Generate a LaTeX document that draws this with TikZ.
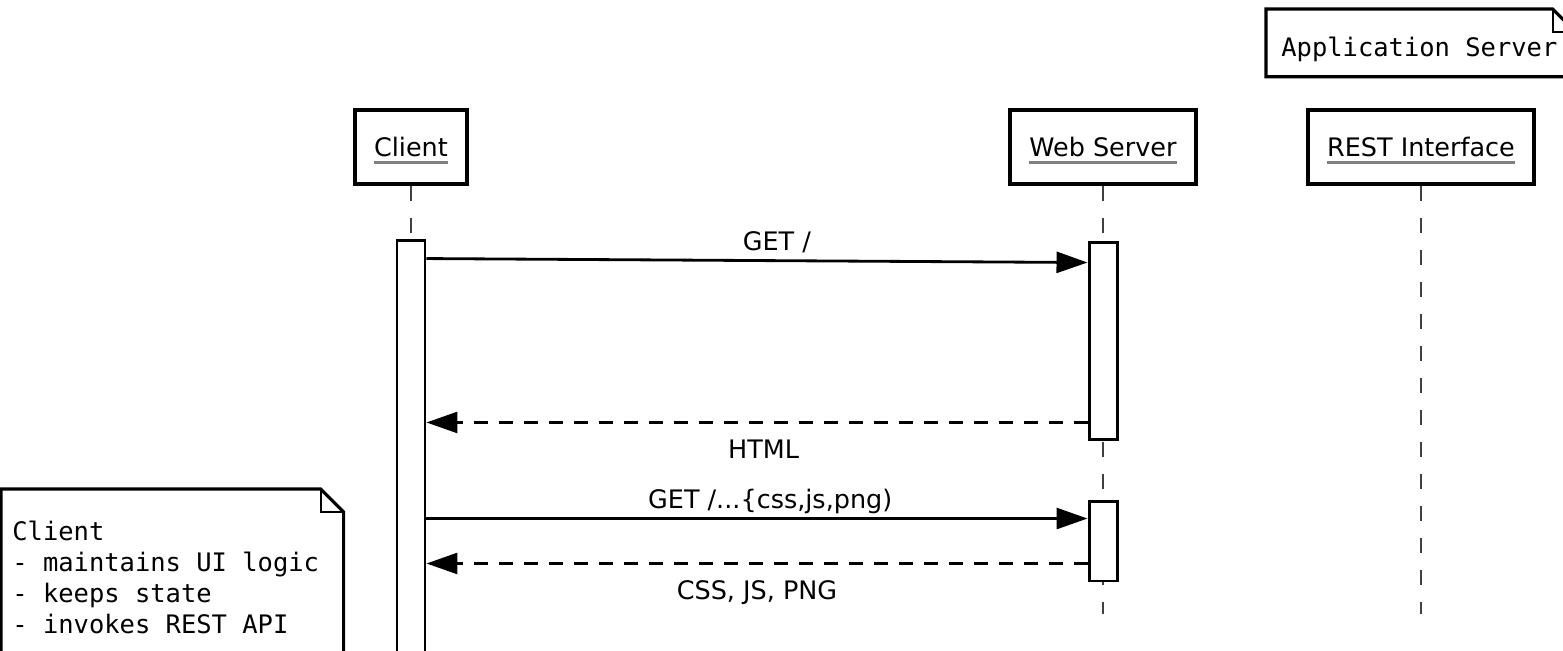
\documentclass[tikz,border=0pt]{standalone}
\usepackage{fontspec}
\setsansfont{DejaVu Sans}
\setmonofont{DejaVu Sans Mono}
\usetikzlibrary{arrows.meta, positioning, calc}

% gray underline for the participant names
\newsavebox{\ulbox}
\newcommand{\grayul}[1]{\sbox{\ulbox}{#1}\rlap{\raisebox{-4.2pt}[0pt][0pt]{\color{black!50}\rule{\wd\ulbox}{1.8pt}}}\usebox{\ulbox}}

\begin{document}
\begin{tikzpicture}[
		x=0.02cm, y=-0.02cm,
		font=\sffamily\fontsize{14.5}{17}\selectfont,
		% Style for the participant heads
		participant/.style={
			draw, line width=2.2pt, fill=white,
			minimum height=1.48cm, inner xsep=0.38cm
		},
		lifeline/.style={draw=black!75, line width=1.1pt, dash pattern=on 0.3cm off 0.34cm},
		activation/.style={draw, line width=1.7pt, fill=white, minimum width=0.56cm, inner sep=0pt},
		% Style for the messages
		call/.style={-{Triangle[length=0.62cm, width=0.42cm]}, line width=1.6pt},
		reply/.style={call, dash pattern=on 0.28cm off 0.22cm},
		msglabel/.style={inner sep=0pt, text depth=0pt},
		% Style for the notes
		note/.style={font=\ttfamily\fontsize{14.5}{17.6}\selectfont, align=left, inner xsep=0.22cm,
			execute at begin node={\spaceskip=0pt\xspaceskip=0pt}},
		noteline/.style={line width=1.8pt, line join=miter},
		foldline/.style={line width=1pt}
		]
		
		\clip (0,0) rectangle (1563,650);
		
		% --- PARTICIPANTS ---
		\node[participant] (client) at (411,147) {\grayul{Client}};
		\node[participant] (web) at (1103,147) {\grayul{Web Server}};
		\node[participant] (rest) at (1421,147) {\grayul{REST Interface}};
		
		% --- LIFELINES ---
		\coordinate (clientEnd) at (411,660);
		\coordinate (webEnd) at (1103,614);
		\coordinate (restEnd) at (1421,614);
		\draw[lifeline] (client.south) -- (clientEnd);
		\draw[lifeline] (web.south) -- (webEnd);
		\draw[lifeline] (rest.south) -- (restEnd);
		
		% --- ACTIVATIONS ---
		\node[activation, minimum height=8.4cm] (clientAct) at (411,450) {};
		\node[activation, minimum height=3.96cm] (webAct1) at (1103,341) {};
		\node[activation, minimum height=1.6cm] (webAct2) at (1103,541) {};
		
		% --- MESSAGES ---
		\draw[call] ($(clientAct.north east)+(0,20)$) -- ($(webAct1.north west)+(0,22)$)
			node[msglabel, pos=0.53, above=5pt] {GET /};
		\draw[reply] ($(webAct1.south west)+(0,-19)$) coordinate (h) -- (clientAct.east |- h)
			node[msglabel, pos=0.49, below=9pt] {HTML};
		\draw[call] ($(clientAct.east |- webAct2.north)+(0,19)$) -- ($(webAct2.north west)+(0,19)$)
			node[msglabel, pos=0.52, above=5pt] {GET /...\{css,js,png)};
		\draw[reply] ($(webAct2.south west)+(0,-19)$) coordinate (r) -- (clientAct.east |- r)
			node[msglabel, midway, below=9pt] {CSS, JS, PNG};
		
		% --- NOTES ---
		\node[note, anchor=north west, text width=5.58cm, inner xsep=0.3cm, inner ysep=0.31cm,
			text height=0.64cm, text depth=0.08cm] (appNote) at (1266,9) {Application Server};
		\draw[noteline] (appNote.north west) -- ($(appNote.north east)+(-23,0)$) coordinate (af)
			-- ($(appNote.north east)+(0,23)$) -- (appNote.south east) -- (appNote.south west) -- cycle;
		\draw[foldline] (af) |- ($(appNote.north east)+(0,23)$);
		
		\node[note, anchor=north west, text width=6.4cm, inner ysep=0.64cm] (clientNote) at (1,489)
			{Client\\- maintains UI logic\\- keeps state\\- invokes REST API};
		\draw[noteline] (clientNote.north west) -- ($(clientNote.north east)+(-23,0)$) coordinate (cf)
			-- ($(clientNote.north east)+(0,23)$) -- (clientNote.south east) -- (clientNote.south west) -- cycle;
		\draw[foldline] (cf) |- ($(clientNote.north east)+(0,23)$);
		
	\end{tikzpicture}
\end{document}
